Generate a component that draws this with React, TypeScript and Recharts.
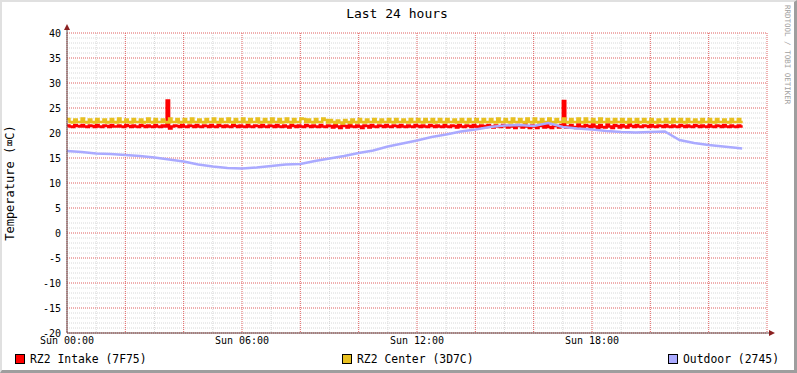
import { LineChart, Line, XAxis, YAxis, CartesianGrid } from 'recharts'

// 5 minute samples, Sun 00:00 -> ~23:10
const STEP_HOURS = 5 / 60

const intake = [
  21.5, 21.3, 21.2, 21.6, 21.4, 21.3, 21.6, 21.3, 21.2, 21.5, 21.4, 21.2,
  21.6, 21.3, 21.2, 21.5, 21.4, 21.2, 21.6, 21.3, 21.3, 21.5, 21.3, 21.2,
  21.6, 21.4, 21.2, 21.5, 21.3, 21.2, 21.6, 21.4, 21.2, 21.5, 21.3, 21.2,
  21.6, 21.3, 21.2, 21.5, 21.3, 26.5, 20.9, 21.3, 21.5, 21.4, 21.2, 21.6,
  21.3, 21.2, 21.5, 21.4, 21.2, 21.6, 21.3, 21.2, 21.5, 21.4, 21.2, 21.6,
  21.3, 21.2, 21.6, 21.4, 21.2, 21.5, 21.3, 21.2, 21.6, 21.4, 21.2, 21.5,
  21.3, 21.2, 21.6, 21.3, 21.2, 21.5, 21.4, 21.2, 21.6, 21.3, 21.2, 21.5,
  21.4, 21.2, 21.6, 21.3, 21.2, 21.5, 21.3, 21.1, 21.6, 21.4, 21.2, 21.5,
  21.3, 21.2, 21.6, 21.4, 21.2, 21.5, 21.3, 21.2, 21.6, 21.3, 21.2, 21.5,
  21.4, 21.1, 21.6, 21.3, 21.0, 21.5, 21.4, 21.1, 21.6, 21.3, 21.2, 21.5,
  21.3, 21.0, 21.5, 21.4, 21.1, 21.6, 21.3, 21.2, 21.5, 21.4, 21.2, 21.6,
  21.3, 21.2, 21.5, 21.4, 21.2, 21.6, 21.3, 21.2, 21.5, 21.3, 21.2, 21.6,
  21.4, 21.2, 21.5, 21.3, 21.2, 21.6, 21.4, 21.2, 21.5, 21.3, 21.2, 21.6,
  21.3, 21.2, 21.5, 21.4, 21.1, 21.6, 21.3, 21.2, 21.5, 21.4, 21.2, 21.6,
  21.3, 21.1, 21.5, 21.4, 21.2, 21.6, 21.3, 21.1, 21.5, 21.3, 21.2, 21.6,
  21.4, 21.1, 21.5, 21.3, 21.0, 21.6, 21.4, 21.1, 21.7, 21.3, 21.0, 21.5,
  21.3, 21.0, 21.6, 21.4, 21.1, 21.7, 21.2, 21.0, 21.5, 21.4, 21.1, 21.6,
  26.4, 21.1, 21.3, 21.6, 21.2, 21.0, 21.7, 21.3, 21.0, 21.6, 21.4, 21.1,
  21.7, 21.3, 21.0, 21.6, 21.2, 21.1, 21.7, 21.3, 21.0, 21.6, 21.4, 21.1,
  21.6, 21.3, 21.1, 21.7, 21.4, 21.2, 21.6, 21.3, 21.2, 21.5, 21.4, 21.2,
  21.6, 21.3, 21.2, 21.5, 21.4, 21.2, 21.6, 21.3, 21.2, 21.5, 21.3, 21.2,
  21.6, 21.4, 21.2, 21.5, 21.3, 21.2, 21.6, 21.4, 21.2, 21.5, 21.3, 21.2,
  21.6, 21.3, 21.2, 21.5, 21.4, 21.2, 21.6, 21.3, 21.2, 21.5, 21.3, 21.2,
  21.5, 21.3, 21.3,
]

const center = [
  22.8, 22.2, 22.1, 22.7, 22.2, 22.2, 22.9, 22.2, 22.1, 22.7, 22.2, 22.1,
  22.8, 22.2, 22.2, 22.7, 22.1, 22.2, 22.8, 22.2, 22.1, 22.9, 22.2, 22.2,
  22.7, 22.2, 22.1, 22.8, 22.2, 22.2, 22.7, 22.1, 22.2, 22.9, 22.2, 22.1,
  22.8, 22.2, 22.2, 22.7, 22.2, 22.1, 22.9, 22.2, 22.2, 22.8, 22.1, 22.2,
  22.8, 22.2, 22.1, 22.9, 22.2, 22.2, 22.7, 22.2, 22.1, 22.8, 22.2, 22.2,
  22.9, 22.2, 22.1, 22.8, 22.2, 22.2, 22.9, 22.2, 22.1, 22.8, 22.2, 22.2,
  22.9, 22.2, 22.1, 22.8, 22.2, 22.2, 22.9, 22.1, 22.2, 22.8, 22.2, 22.1,
  22.9, 22.2, 22.2, 22.8, 22.1, 22.2, 22.9, 22.2, 22.1, 22.8, 22.2, 22.2,
  22.9, 22.8, 22.2, 22.7, 22.2, 22.1, 22.8, 22.2, 22.2, 22.9, 22.6, 22.1,
  22.6, 22.2, 22.0, 22.5, 22.1, 21.9, 22.6, 22.2, 22.0, 22.7, 22.2, 22.1,
  22.8, 22.2, 22.1, 22.7, 22.2, 22.2, 22.8, 22.2, 22.1, 22.7, 22.2, 22.2,
  22.8, 22.2, 22.1, 22.8, 22.2, 22.2, 22.7, 22.2, 22.1, 22.8, 22.2, 22.2,
  22.8, 22.2, 22.1, 22.8, 22.2, 22.2, 22.8, 22.1, 22.2, 22.8, 22.2, 22.1,
  22.8, 22.2, 22.2, 22.7, 22.1, 22.2, 22.8, 22.2, 22.1, 22.8, 22.2, 22.2,
  22.8, 22.2, 22.1, 22.8, 22.2, 22.2, 22.8, 22.2, 22.1, 22.9, 22.2, 22.2,
  22.8, 22.2, 22.1, 22.9, 22.2, 22.2, 22.8, 22.2, 22.1, 22.9, 22.2, 22.1,
  22.9, 22.2, 22.1, 22.8, 22.2, 22.2, 22.9, 22.2, 22.1, 22.8, 22.2, 22.2,
  22.9, 22.2, 22.1, 22.8, 22.2, 22.2, 22.9, 22.2, 22.1, 22.9, 22.2, 22.2,
  22.8, 22.2, 22.1, 22.9, 22.2, 22.2, 22.8, 22.2, 22.1, 22.8, 22.2, 22.2,
  22.8, 22.2, 22.1, 22.8, 22.2, 22.2, 22.8, 22.1, 22.2, 22.8, 22.2, 22.1,
  22.8, 22.2, 22.1, 22.7, 22.2, 22.2, 22.8, 22.2, 22.1, 22.8, 22.2, 22.2,
  22.8, 22.2, 22.1, 22.8, 22.2, 22.2, 22.7, 22.2, 22.1, 22.8, 22.2, 22.2,
  22.8, 22.2, 22.1, 22.8, 22.2, 22.2, 22.7, 22.2, 22.1, 22.8, 22.2, 22.2,
  22.8, 22.2, 22.2,
]

const outdoorHours = [
  0, 0.5, 1, 1.5, 2, 2.5, 3, 3.5, 4, 4.5, 5, 5.5, 6, 6.5, 7, 7.5,
  8, 8.5, 9, 9.5, 10, 10.5, 11, 11.5, 12, 12.5, 13, 13.5, 14, 14.5, 15, 15.5,
  16, 16.5, 17, 17.5, 18, 18.5, 19, 19.5, 20, 20.5, 21, 21.5, 22, 22.5, 23, 23.15,
]
const outdoor = [
  16.4, 16.2, 15.9, 15.8, 15.6, 15.4, 15.1, 14.7, 14.3, 13.7, 13.3, 13.0, 12.9, 13.1, 13.4, 13.7,
  13.8, 14.4, 14.9, 15.4, 16.0, 16.5, 17.3, 17.9, 18.5, 19.2, 19.7, 20.3, 20.7, 21.2, 21.5, 21.6,
  21.4, 22.0, 21.2, 20.9, 20.7, 20.4, 20.2, 20.1, 20.2, 20.3, 18.6, 18.0, 17.6, 17.3, 17.0, 16.9,
]

const hourTicks = Array.from({ length: 25 }, (_, i) => i)
const majorHourTicks = [0, 2, 4, 6, 8, 10, 12, 14, 16, 18, 20, 22, 24]
const labelHourTicks = [0, 6, 12, 18]
const tempTicks = [-20, -15, -10, -5, 0, 5, 10, 15, 20, 25, 30, 35, 40]
const minorTempTicks = Array.from({ length: 61 }, (_, i) => i - 20)

const X_DOMAIN = [0, 24]
const Y_DOMAIN = [-20, 40]

const series = [
  { key: 'intake', name: 'RZ2 Intake (7F75)', color: '#ff0000' },
  { key: 'center', name: 'RZ2 Center (3D7C)', color: '#e8c020' },
  { key: 'outdoor', name: 'Outdoor (2745)', color: '#aaaaff' },
]

const intakeData = intake.map((v, i) => ({ t: i * STEP_HOURS, v }))
const centerData = center.map((v, i) => ({ t: i * STEP_HOURS, v }))
const outdoorData = outdoor.map((v, i) => ({ t: outdoorHours[i], v }))

const FONT = '"DejaVu Sans Mono", monospace'

// run a value through the axis scale, whatever shape it has
const applyScale = (scale: any, v: number): number | null => {
  let r: any = null
  if (typeof scale === 'function') r = scale(v)
  else if (scale && typeof scale.map === 'function') r = scale.map(v)
  return typeof r === 'number' && isFinite(r) ? r : null
}

const xAt = (values: number[]) => (props: any) => {
  const o = props.offset
  return values.map((v) => {
    const r = applyScale(props?.xAxis?.scale, v)
    return r ?? o.left + ((v - X_DOMAIN[0]) / (X_DOMAIN[1] - X_DOMAIN[0])) * o.width
  })
}
const yAt = (values: number[]) => (props: any) => {
  const o = props.offset
  return values.map((v) => {
    const r = applyScale(props?.yAxis?.scale, v)
    return r ?? o.top + ((Y_DOMAIN[1] - v) / (Y_DOMAIN[1] - Y_DOMAIN[0])) * o.height
  })
}

export default function App() {
  const legendX = [15, 342, 668]
  const tick = { fontSize: 10, fontFamily: FONT, fill: '#000' }

  return (
    <div style={{ position: 'relative', width: 797, height: 373, background: '#fff' }}>
      <style>{'body{margin:0}'}</style>
      <LineChart width={797} height={373} margin={{ top: 33, right: 30, left: 27, bottom: 0 }}>
        <CartesianGrid
          xAxisId="main"
          yAxisId="main"
          stroke="#d8d8d8"
          strokeDasharray="1 1"
          verticalCoordinatesGenerator={xAt(hourTicks.filter((h) => h % 2 === 1))}
          horizontalCoordinatesGenerator={yAt(minorTempTicks.filter((t) => t % 5 !== 0))}
        />
        <CartesianGrid
          xAxisId="main"
          yAxisId="main"
          stroke="#e06060"
          strokeDasharray="1 1"
          verticalCoordinatesGenerator={xAt(majorHourTicks)}
          horizontalCoordinatesGenerator={yAt(tempTicks)}
        />
        <XAxis
          xAxisId="main"
          type="number"
          dataKey="t"
          domain={X_DOMAIN}
          ticks={labelHourTicks}
          height={40}
          tickLine={false}
          tickSize={0}
          tickMargin={4}
          axisLine={{ stroke: '#604848' }}
          tick={tick}
          tickFormatter={(h) => `Sun ${String(h).padStart(2, '0')}:00`}
        />
        <YAxis
          yAxisId="main"
          type="number"
          domain={Y_DOMAIN}
          ticks={tempTicks}
          width={40}
          tickLine={false}
          tickSize={0}
          tickMargin={6}
          axisLine={{ stroke: '#604848' }}
          tick={tick}
        />
        <Line xAxisId="main" yAxisId="main" data={intakeData} dataKey="v" type="stepAfter" stroke={series[0].color} strokeWidth={2.5} dot={false} isAnimationActive={false} />
        <Line xAxisId="main" yAxisId="main" data={centerData} dataKey="v" type="stepAfter" stroke={series[1].color} strokeWidth={2.5} dot={false} isAnimationActive={false} />
        <Line xAxisId="main" yAxisId="main" data={outdoorData} dataKey="v" type="linear" stroke={series[2].color} strokeWidth={2.5} dot={false} isAnimationActive={false} />
      </LineChart>

      <svg width={797} height={373} style={{ position: 'absolute', left: 0, top: 0, pointerEvents: 'none' }}>
        {/* axis arrows */}
        <line x1={67} y1={33} x2={67} y2={28} stroke="#604848" />
        <polygon points="67,24 64,30 70,30" fill="#8b2020" />
        <line x1={767} y1={333} x2={770} y2={333} stroke="#604848" />
        <polygon points="775,333 769,330 769,336" fill="#8b2020" />

        <text x={397} y={18} textAnchor="middle" fontFamily={FONT} fontSize={13} fill="#000">
          Last 24 hours
        </text>
        <text
          x={0}
          y={0}
          transform="translate(14 183) rotate(-90)"
          textAnchor="middle"
          fontFamily={FONT}
          fontSize={12}
          fill="#000"
        >
          Temperature (⌧C)
        </text>
        <text x={0} y={0} transform="translate(785 5) rotate(90)" fontFamily={FONT} fontSize={7.5} fill="#a0a0a0">
          RRDTOOL / TOBI OETIKER
        </text>

        {series.map((s, i) => (
          <g key={s.key}>
            <rect x={legendX[i] + 0.5} y={354.5} width={9} height={9} fill={s.color} stroke="#000" />
            <text x={legendX[i] + 15} y={363} fontFamily={FONT} fontSize={11.4} fill="#000">
              {s.name}
            </text>
          </g>
        ))}
      </svg>

      <div
        style={{
          position: 'absolute',
          inset: 0,
          boxSizing: 'border-box',
          borderTop: '2px solid #e0e0e0',
          borderLeft: '2px solid #e0e0e0',
          borderRight: '3px solid #9e9e9e',
          borderBottom: '3px solid #9e9e9e',
          pointerEvents: 'none',
        }}
      />
    </div>
  )
}
